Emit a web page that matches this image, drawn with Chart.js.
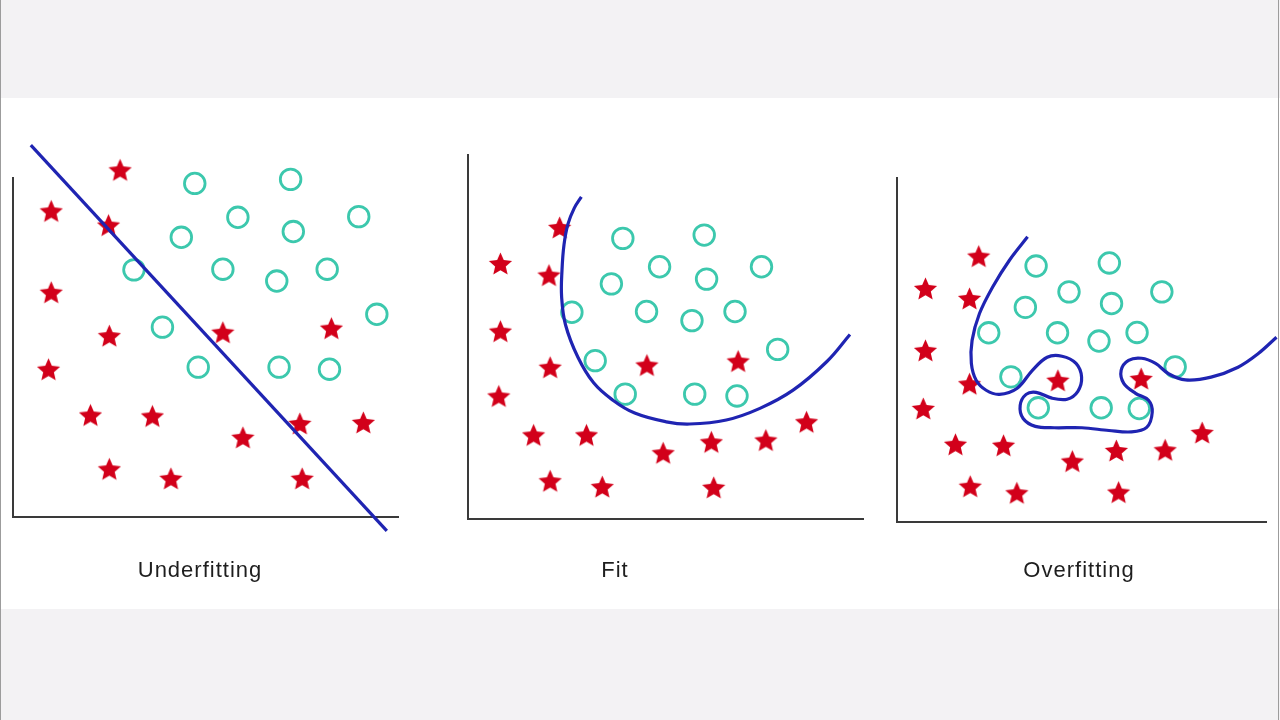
<!DOCTYPE html>
<html>
<head>
<meta charset="utf-8">
<script src="https://cdn.jsdelivr.net/npm/chart.js@4/dist/chart.umd.min.js"></script>
<style>
  html, body { margin: 0; padding: 0; }
  body { width: 1280px; height: 720px; position: relative; background: #ffffff; overflow: hidden; }
  .band { position: absolute; left: 0; width: 1280px; background: #f3f2f4; }
  .edge { position: absolute; top: 0; width: 1px; height: 720px; background: #9c9c9c; }
  canvas { position: absolute; }
  .lbl { position: absolute; top: 559px; transform: translateX(-50%); font-family: "Liberation Sans", Arial, sans-serif;
         font-size: 22px; line-height: 22px; letter-spacing: 1px; color: #1e1e1e; white-space: nowrap; }
</style>
</head>
<body>
<div class="band" style="top:0;height:98px"></div>
<div class="band" style="top:609px;height:111px"></div>
<div class="edge" style="left:0"></div>
<div class="edge" style="left:1278px"></div>
<canvas id="c1" width="440" height="500" style="left:0;top:100px"></canvas>
<canvas id="c2" width="440" height="500" style="left:440px;top:100px"></canvas>
<canvas id="c3" width="400" height="500" style="left:880px;top:100px"></canvas>
<div class="lbl" id="t1" style="left:200px"></div>
<div class="lbl" id="t2" style="left:615px"></div>
<div class="lbl" id="t3" style="left:1079px"></div>
<script>
// ---- data (values in each panel's own 0..10 units) ----
const panelTitles = ["Underfitting", "Fit", "Overfitting"];

const underStars = [[2.78,10.24],[0.99,9.03],[2.48,8.61],[0.99,6.63],[2.50,5.35],[5.45,5.45],[8.27,5.57],[0.92,4.36],[2.01,3.01],[3.62,2.98],[5.97,2.35],[7.45,2.76],[9.10,2.79],[10.37,3.47],[2.50,1.42],[4.10,1.14],[7.51,1.14]];
const underCircles = [[4.72,9.84],[7.21,9.96],[5.84,8.84],[7.28,8.42],[8.98,8.86],[4.37,8.25],[3.14,7.29],[5.45,7.31],[6.85,6.96],[8.16,7.31],[9.45,5.98],[3.88,5.60],[4.81,4.42],[6.91,4.42],[8.22,4.36]];
const underBoundary = [[0.46,10.97],[9.71,-0.41]];

const fitStars = [[2.32,8.01],[0.82,7.02],[2.05,6.70],[0.82,5.16],[2.08,4.17],[4.53,4.23],[6.84,4.34],[0.78,3.38],[1.66,2.31],[3.00,2.31],[4.94,1.82],[6.16,2.12],[7.54,2.17],[8.57,2.67],[2.08,1.05],[3.40,0.89],[6.22,0.87]];
const fitCircles = [[3.92,7.71],[5.98,7.80],[4.85,6.93],[7.43,6.93],[6.04,6.59],[3.63,6.46],[2.63,5.68],[4.52,5.70],[5.67,5.45],[6.76,5.70],[7.84,4.66],[3.22,4.35],[3.98,3.43],[5.74,3.43],[6.81,3.38]];
const fitBoundary = [[2.87,8.85],[2.69,8.54],[2.53,8.10],[2.43,7.53],[2.38,6.84],[2.37,6.10],[2.47,5.33],[2.78,4.45],[3.18,3.74],[3.66,3.27],[4.22,2.91],[5.02,2.67],[5.61,2.61],[6.54,2.72],[7.39,3.04],[8.23,3.54],[9.08,4.32],[9.67,5.07]];

const overStars = [[2.21,7.73],[0.77,6.79],[1.96,6.50],[0.77,4.99],[1.96,4.02],[4.35,4.12],[6.60,4.17],[0.71,3.30],[1.58,2.26],[2.88,2.23],[4.74,1.77],[5.93,2.08],[7.25,2.10],[8.25,2.60],[1.98,1.04],[3.24,0.85],[5.99,0.87]];
const overCircles = [[3.76,7.44],[5.74,7.53],[4.65,6.69],[7.16,6.69],[5.80,6.35],[3.47,6.24],[2.48,5.50],[4.34,5.50],[5.46,5.26],[6.49,5.51],[7.52,4.51],[3.08,4.22],[3.82,3.32],[5.52,3.32],[6.55,3.30]];
const overBoundary = [[3.53,8.29],[3.04,7.61],[2.59,6.84],[2.23,6.06],[2.03,5.28],[2.01,4.61],[2.14,4.12],[2.41,3.83],[2.77,3.71],[3.25,3.89],[3.66,4.41],[4.06,4.79],[4.46,4.82],[4.84,4.61],[4.99,4.21],[4.89,3.80],[4.60,3.57],[4.19,3.60],[3.76,3.77],[3.49,3.71],[3.33,3.39],[3.41,3.01],[3.74,2.78],[4.25,2.74],[5.00,2.74],[5.73,2.66],[6.34,2.62],[6.75,2.75],[6.90,3.19],[6.80,3.54],[6.45,3.74],[6.13,4.03],[6.06,4.41],[6.26,4.70],[6.61,4.76],[6.99,4.61],[7.34,4.31],[7.80,4.13],[8.49,4.21],[9.22,4.50],[9.76,4.89],[10.26,5.37]];

// ---- styles ----
const STAR_COLOR = '#d2001a';
const CIRCLE_COLOR = '#3cc8ad';
const LINE_COLOR = '#1f24b2';
const AXIS_COLOR = '#3a3a3a';

function makeStar(R, color) {
  const s = Math.ceil(2 * R + 2);
  const c = document.createElement('canvas');
  c.width = s; c.height = s;
  const ctx = c.getContext('2d');
  ctx.translate(s / 2, s / 2 + 0.0955 * R);
  const r = R * 0.46;
  ctx.beginPath();
  for (let i = 0; i < 10; i++) {
    const rad = i % 2 === 0 ? R : r;
    const a = -Math.PI / 2 + i * Math.PI / 5;
    const px = rad * Math.cos(a), py = rad * Math.sin(a);
    if (i === 0) ctx.moveTo(px, py); else ctx.lineTo(px, py);
  }
  ctx.closePath();
  ctx.fillStyle = color;
  ctx.fill();
  return c;
}
const starImg = makeStar(12.2, STAR_COLOR);

const toXY = arr => arr.map(p => ({ x: p[0], y: p[1] }));

function makePanel(id, stars, circles, boundary, pad, tension) {
  const axis = (horizontal) => ({
    type: 'linear', min: 0, max: 10,
    grid: { display: false, drawTicks: false },
    ticks: { display: false },
    border: { display: true, color: AXIS_COLOR, width: 2 },
    afterFit: s => { if (horizontal) s.height = 0; else s.width = 0; }
  });
  new Chart(document.getElementById(id), {
    type: 'scatter',
    data: {
      datasets: [
        { data: toXY(boundary), showLine: true, borderColor: LINE_COLOR, borderWidth: 3.2,
          pointRadius: 0, tension: tension, capBezierPoints: false, clip: false, fill: false },
        { data: toXY(circles), pointStyle: 'circle', pointRadius: 10.3, borderWidth: 2.8,
          borderColor: CIRCLE_COLOR, backgroundColor: 'rgba(255,255,255,0)', clip: false },
        { data: toXY(stars), pointStyle: starImg, pointRadius: 12, clip: false }
      ]
    },
    options: {
      responsive: false, animation: false, devicePixelRatio: 1,
      layout: { padding: pad },
      plugins: { legend: { display: false }, tooltip: { enabled: false }, title: { display: false } },
      events: [],
      scales: { x: axis(true), y: axis(false) }
    }
  });
}

makePanel('c1', underStars, underCircles, underBoundary, { left: 10, right: 42, top: 78, bottom: 83 }, 0);
makePanel('c2', fitStars, fitCircles, fitBoundary, { left: 28, right: 17, top: 55, bottom: 81 }, 0.4);
makePanel('c3', overStars, overCircles, overBoundary, { left: 17, right: 11, top: 78, bottom: 78 }, 0.35);

document.getElementById('t1').textContent = panelTitles[0];
document.getElementById('t2').textContent = panelTitles[1];
document.getElementById('t3').textContent = panelTitles[2];
</script>
</body>
</html>
